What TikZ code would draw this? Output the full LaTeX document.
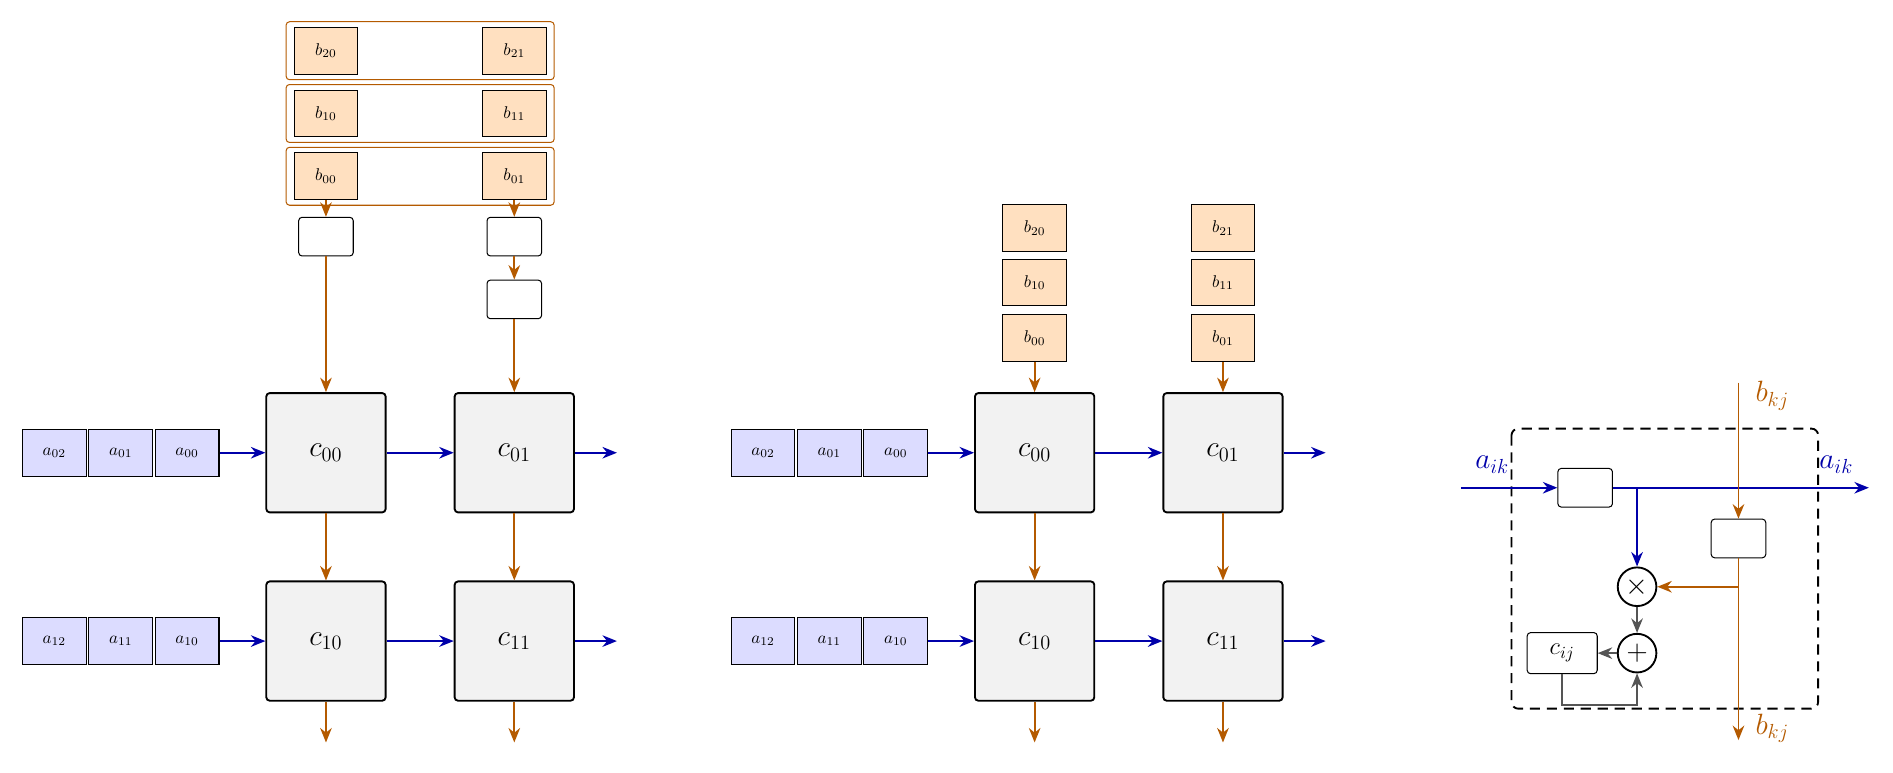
\documentclass[tikz,border=0pt]{standalone}
\usepackage{amsmath}
\usepackage{tikz}
\usepackage{xcolor}
\usetikzlibrary{arrows.meta, positioning, calc}

\definecolor{ablue}{RGB}{0,0,170}
\definecolor{borange}{RGB}{180,90,0}
\definecolor{afill}{RGB}{220,220,255}
\definecolor{bfill}{RGB}{255,224,192}
\definecolor{cgray}{RGB}{85,85,85}

\tikzset{
  aval/.style={rectangle, draw, semithick, fill=afill, minimum width=1.32cm, minimum height=0.97cm, font=\normalsize},
  bval/.style={rectangle, draw, semithick, fill=bfill, minimum width=1.32cm, minimum height=0.97cm, font=\normalsize},
  pe/.style={rectangle, draw, line width=1.1pt, rounded corners=2pt, fill=black!5, minimum size=2.47cm, font=\LARGE},
  reg/.style={rectangle, draw, semithick, rounded corners=2pt, fill=white, minimum width=1.13cm, minimum height=0.8cm, font=\Large},
  op/.style={circle, draw, line width=1.1pt, minimum size=0.8cm, inner sep=0pt, font=\LARGE},
  aflow/.style={-{Stealth[length=3mm,width=2.4mm]}, line width=1.1pt, ablue},
  bflow/.style={-{Stealth[length=3mm,width=2.4mm]}, line width=1.1pt, borange},
  gflow/.style={-{Stealth[length=3mm,width=2.4mm]}, line width=1.1pt, cgray},
  bframe/.style={draw=borange, semithick, rounded corners=2pt}
}

\begin{document}
\begin{tikzpicture}[x=0.025cm, y=-0.025cm]
\useasboundingbox (0,0) rectangle (1568,640);

% Left array: staggered b input
\foreach \r/\y in {2/42, 1/94, 0/146} {
  \node[bval] (lb\r0) at (270,\y) {$b_{\r0}$};
  \node[bval] (lb\r1) at (426,\y) {$b_{\r1}$};
  \draw[bframe] (237,\y-24) rectangle (459,\y+24);
}
\node[reg] (ld0) at (270,196) {};
\node[reg] (ld1) at (426,196) {};
\node[reg] (ld2) at (426,248) {};

\node[pe] (lc00) at (270,375) {$c_{00}$};
\node[pe] (lc01) at (426,375) {$c_{01}$};
\node[pe] (lc10) at (270,531) {$c_{10}$};
\node[pe] (lc11) at (426,531) {$c_{11}$};

\node[aval] (la00) at (155,375) {$a_{00}$};
\node[aval] (la01) at (100,375) {$a_{01}$};
\node[aval] (la02) at (45,375) {$a_{02}$};
\node[aval] (la10) at (155,531) {$a_{10}$};
\node[aval] (la11) at (100,531) {$a_{11}$};
\node[aval] (la12) at (45,531) {$a_{12}$};

\coordinate (lo0) at (511,375);
\coordinate (lo1) at (511,531);
\coordinate (ld0out) at (270,615);
\coordinate (ld1out) at (426,615);

\draw[bflow] (lb00) -- (ld0);
\draw[bflow] (lb01) -- (ld1);
\draw[bflow] (ld1) -- (ld2);
\draw[bflow] (ld0) -- (lc00);
\draw[bflow] (ld2) -- (lc01);
\draw[bflow] (lc00) -- (lc10);
\draw[bflow] (lc01) -- (lc11);
\draw[bflow] (lc10) -- (ld0out);
\draw[bflow] (lc11) -- (ld1out);
\draw[aflow] (la00) -- (lc00);
\draw[aflow] (lc00) -- (lc01);
\draw[aflow] (lc01) -- (lo0);
\draw[aflow] (la10) -- (lc10);
\draw[aflow] (lc10) -- (lc11);
\draw[aflow] (lc11) -- (lo1);

% Middle array: plain b columns
\foreach \r/\y in {2/189, 1/234, 0/280} {
  \node[bval] (mb\r0) at (857,\y) {$b_{\r0}$};
  \node[bval] (mb\r1) at (1013,\y) {$b_{\r1}$};
}
\node[pe] (mc00) at (857,375) {$c_{00}$};
\node[pe] (mc01) at (1013,375) {$c_{01}$};
\node[pe] (mc10) at (857,531) {$c_{10}$};
\node[pe] (mc11) at (1013,531) {$c_{11}$};

\node[aval] (ma00) at (742,375) {$a_{00}$};
\node[aval] (ma01) at (687,375) {$a_{01}$};
\node[aval] (ma02) at (632,375) {$a_{02}$};
\node[aval] (ma10) at (742,531) {$a_{10}$};
\node[aval] (ma11) at (687,531) {$a_{11}$};
\node[aval] (ma12) at (632,531) {$a_{12}$};

\coordinate (mo0) at (1098,375);
\coordinate (mo1) at (1098,531);
\coordinate (md0out) at (857,615);
\coordinate (md1out) at (1013,615);

\draw[bflow] (mb00) -- (mc00);
\draw[bflow] (mb01) -- (mc01);
\draw[bflow] (mc00) -- (mc10);
\draw[bflow] (mc01) -- (mc11);
\draw[bflow] (mc10) -- (md0out);
\draw[bflow] (mc11) -- (md1out);
\draw[aflow] (ma00) -- (mc00);
\draw[aflow] (mc00) -- (mc01);
\draw[aflow] (mc01) -- (mo0);
\draw[aflow] (ma10) -- (mc10);
\draw[aflow] (mc10) -- (mc11);
\draw[aflow] (mc11) -- (mo1);

% Single processing element
\draw[line width=1.1pt, dash pattern=on 6pt off 4pt, rounded corners=4pt] (1252,355) rectangle (1506,587);
\coordinate (ain) at (1210,404);
\coordinate (aout) at (1548,404);
\coordinate (bin) at (1440,317);
\coordinate (bout) at (1440,613);
\coordinate (asplit) at (1356,404);
\coordinate (bsplit) at (1440,486);
\coordinate (fbl) at (1294,584);
\coordinate (fbr) at (1356,584);

\node[reg] (areg) at (1313,404) {};
\node[reg] (breg) at (1440,446) {};
\node[op] (mul) at (1356,486) {$\times$};
\node[op] (add) at (1356,541) {$+$};
\node[reg, minimum width=1.45cm, minimum height=0.85cm] (cij) at (1294,541) {$c_{ij}$};

\draw[aflow] (ain) -- (areg);
\draw[aflow] (areg) -- (aout);
\draw[aflow] (asplit) -- (mul);
\draw[bflow] (bin) -- (breg);
\draw[bflow] (breg) -- (bout);
\draw[bflow] (bsplit) -- (mul);
\draw[gflow] (mul) -- (add);
\draw[gflow] (add) -- (cij);
\draw[gflow] (cij.south -| fbl) -- (fbl) -- (fbr) -- (add);

\node[ablue, font=\LARGE] (ailab) at (1236,385) {$a_{ik}$};
\node[ablue, font=\LARGE] (aolab) at (1521,385) {$a_{ik}$};
\node[borange, font=\LARGE] (bilab) at (1468,328) {$b_{kj}$};
\node[borange, font=\LARGE] (bolab) at (1468,603) {$b_{kj}$};
\end{tikzpicture}
\end{document}
